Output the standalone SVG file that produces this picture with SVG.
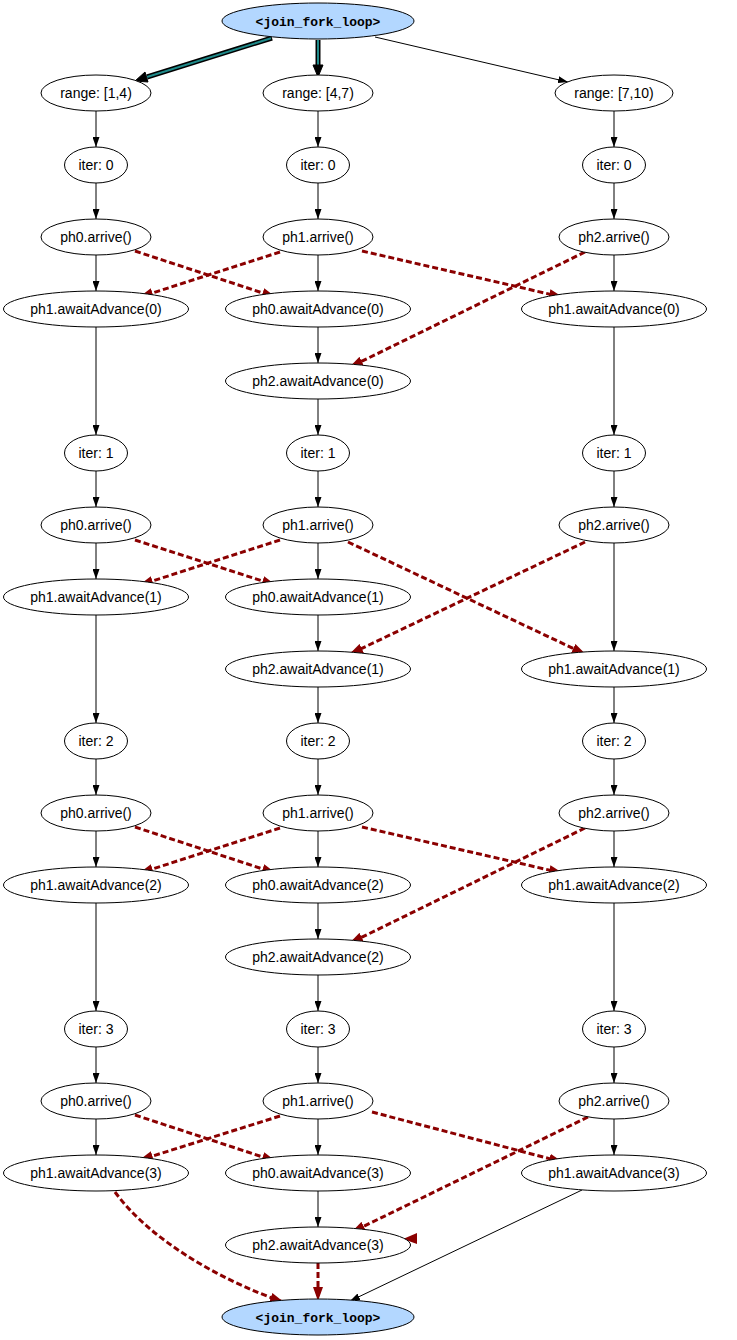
<svg xmlns="http://www.w3.org/2000/svg" width="737" height="1340" viewBox="0 0 737 1340">
<style>
.n ellipse{fill:#fff;stroke:#000;stroke-width:1}
.n text{font-family:"Liberation Sans",Arial,sans-serif;font-size:14px;text-anchor:middle;fill:#000}
.j ellipse{fill:#b3d7ff;stroke:#000;stroke-width:1}
.j text{font-family:"Liberation Mono","Courier New",monospace;font-size:13px;font-weight:bold;text-anchor:middle;fill:#000}
.e{fill:none;stroke:#000;stroke-width:1;marker-end:url(#ab)}
.r{fill:none;stroke:#8b0000;stroke-width:3;stroke-dasharray:6,3;marker-end:url(#ar)}
</style>
<defs>
<marker id="ab" markerUnits="userSpaceOnUse" markerWidth="10" markerHeight="7" refX="10" refY="3.5" orient="auto"><path d="M0,0 L10,3.5 L0,7 z" fill="#000"/></marker>
<marker id="ar" markerUnits="userSpaceOnUse" markerWidth="14" markerHeight="10" refX="13" refY="5" orient="auto"><path d="M0,0 L14,5 L0,10 z" fill="#8b0000"/></marker>
</defs>
<rect width="737" height="1340" fill="#fff"/>
<g id="connectors">
<line x1="272" y1="38" x2="147" y2="77" stroke="#000" stroke-width="5"/>
<line x1="271" y1="38.3" x2="147" y2="77" stroke="#1f8a8a" stroke-width="2"/>
<polygon points="135,81 148,82 145,72" fill="#000" stroke="#000"/>
<line x1="318" y1="40" x2="318" y2="65" stroke="#000" stroke-width="5"/>
<line x1="318" y1="40" x2="318" y2="65" stroke="#1f8a8a" stroke-width="2"/>
<polygon points="318,77 313,65 323,65" fill="#000" stroke="#000"/>
<path class="e" d="M375,37 L568,82"/>
<path class="e" d="M96,111 V147"/><path class="e" d="M96,183 V219"/><path class="e" d="M96,255 V291"/><path class="e" d="M96,327 V435"/>
<path class="e" d="M96,471 V507"/><path class="e" d="M96,543 V579"/><path class="e" d="M96,615 V723"/>
<path class="e" d="M96,759 V795"/><path class="e" d="M96,831 V867"/><path class="e" d="M96,903 V1011"/>
<path class="e" d="M96,1047 V1083"/><path class="e" d="M96,1119 V1155"/>
<path class="e" d="M318,111 V147"/><path class="e" d="M318,183 V219"/><path class="e" d="M318,255 V291"/><path class="e" d="M318,327 V363"/><path class="e" d="M318,399 V435"/>
<path class="e" d="M318,471 V507"/><path class="e" d="M318,543 V579"/><path class="e" d="M318,615 V651"/><path class="e" d="M318,687 V723"/>
<path class="e" d="M318,759 V795"/><path class="e" d="M318,831 V867"/><path class="e" d="M318,903 V939"/><path class="e" d="M318,975 V1011"/>
<path class="e" d="M318,1047 V1083"/><path class="e" d="M318,1119 V1155"/><path class="e" d="M318,1191 V1227"/>
<path class="e" d="M614,111 V147"/><path class="e" d="M614,183 V219"/><path class="e" d="M614,255 V291"/><path class="e" d="M614,327 V435"/>
<path class="e" d="M614,471 V507"/><path class="e" d="M614,543 V651"/><path class="e" d="M614,687 V723"/>
<path class="e" d="M614,759 V795"/><path class="e" d="M614,831 V867"/><path class="e" d="M614,903 V1011"/>
<path class="e" d="M614,1047 V1083"/><path class="e" d="M614,1119 V1155"/>
<path class="e" d="M582,1190 L350,1301"/>
<path class="r" d="M135,251 L275,297"/><path class="r" d="M280,252 L140,297"/><path class="r" d="M362,251 L562,297"/><path class="r" d="M585,252 L350,367"/>
<path class="r" d="M135,540 L275,585"/><path class="r" d="M280,540 L140,585"/><path class="r" d="M348,542 L585,654"/><path class="r" d="M585,542 L350,654"/>
<path class="r" d="M135,827 L275,873"/><path class="r" d="M280,828 L140,873"/><path class="r" d="M362,827 L562,873"/><path class="r" d="M585,828 L350,943"/>
<path class="r" d="M135,1115 L275,1161"/><path class="r" d="M280,1116 L140,1160"/><path class="r" d="M372,1112 L562,1162"/><path class="r" d="M588,1117 L352,1232"/>
<path class="r" d="M115,1192 C150,1240 220,1280 283,1302"/>
<path class="r" d="M318,1263 L318,1300"/>
<polygon points="403,1239 417,1233 417,1244" fill="#8b0000"/>
</g>
<g id="root" class="j"><ellipse cx="318" cy="21" rx="96" ry="18"/><text x="318" y="25.5">&lt;join_fork_loop&gt;</text></g>
<g id="rangeL" class="n"><ellipse cx="96" cy="93" rx="55" ry="18"/><text x="96" y="98">range: [1,4)</text></g>
<g id="rangeM" class="n"><ellipse cx="318" cy="93" rx="55" ry="18"/><text x="318" y="98">range: [4,7)</text></g>
<g id="rangeR" class="n"><ellipse cx="614" cy="93" rx="59" ry="18"/><text x="614" y="98">range: [7,10)</text></g>
<g id="iterL0" class="n"><ellipse cx="96" cy="165" rx="31.5" ry="18"/><text x="96" y="170">iter: 0</text></g>
<g id="iterM0" class="n"><ellipse cx="318" cy="165" rx="31.5" ry="18"/><text x="318" y="170">iter: 0</text></g>
<g id="iterR0" class="n"><ellipse cx="614" cy="165" rx="31.5" ry="18"/><text x="614" y="170">iter: 0</text></g>
<g id="arrL0" class="n"><ellipse cx="96" cy="237" rx="55" ry="18"/><text x="96" y="242">ph0.arrive()</text></g>
<g id="arrM0" class="n"><ellipse cx="318" cy="237" rx="55" ry="18"/><text x="318" y="242">ph1.arrive()</text></g>
<g id="arrR0" class="n"><ellipse cx="614" cy="237" rx="55" ry="18"/><text x="614" y="242">ph2.arrive()</text></g>
<g id="awL0" class="n"><ellipse cx="96" cy="309" rx="92.5" ry="18"/><text x="96" y="314">ph1.awaitAdvance(0)</text></g>
<g id="awM0a" class="n"><ellipse cx="318" cy="309" rx="92.5" ry="18"/><text x="318" y="314">ph0.awaitAdvance(0)</text></g>
<g id="awR0" class="n"><ellipse cx="614" cy="309" rx="92.5" ry="18"/><text x="614" y="314">ph1.awaitAdvance(0)</text></g>
<g id="awM0b" class="n"><ellipse cx="318" cy="381" rx="92.5" ry="18"/><text x="318" y="386">ph2.awaitAdvance(0)</text></g>
<g id="iterL1" class="n"><ellipse cx="96" cy="453" rx="31.5" ry="18"/><text x="96" y="458">iter: 1</text></g>
<g id="iterM1" class="n"><ellipse cx="318" cy="453" rx="31.5" ry="18"/><text x="318" y="458">iter: 1</text></g>
<g id="iterR1" class="n"><ellipse cx="614" cy="453" rx="31.5" ry="18"/><text x="614" y="458">iter: 1</text></g>
<g id="arrL1" class="n"><ellipse cx="96" cy="525" rx="55" ry="18"/><text x="96" y="530">ph0.arrive()</text></g>
<g id="arrM1" class="n"><ellipse cx="318" cy="525" rx="55" ry="18"/><text x="318" y="530">ph1.arrive()</text></g>
<g id="arrR1" class="n"><ellipse cx="614" cy="525" rx="55" ry="18"/><text x="614" y="530">ph2.arrive()</text></g>
<g id="awL1" class="n"><ellipse cx="96" cy="597" rx="92.5" ry="18"/><text x="96" y="602">ph1.awaitAdvance(1)</text></g>
<g id="awM1a" class="n"><ellipse cx="318" cy="597" rx="92.5" ry="18"/><text x="318" y="602">ph0.awaitAdvance(1)</text></g>
<g id="awM1b" class="n"><ellipse cx="318" cy="669" rx="92.5" ry="18"/><text x="318" y="674">ph2.awaitAdvance(1)</text></g>
<g id="awR1" class="n"><ellipse cx="614" cy="669" rx="92.5" ry="18"/><text x="614" y="674">ph1.awaitAdvance(1)</text></g>
<g id="iterL2" class="n"><ellipse cx="96" cy="741" rx="31.5" ry="18"/><text x="96" y="746">iter: 2</text></g>
<g id="iterM2" class="n"><ellipse cx="318" cy="741" rx="31.5" ry="18"/><text x="318" y="746">iter: 2</text></g>
<g id="iterR2" class="n"><ellipse cx="614" cy="741" rx="31.5" ry="18"/><text x="614" y="746">iter: 2</text></g>
<g id="arrL2" class="n"><ellipse cx="96" cy="813" rx="55" ry="18"/><text x="96" y="818">ph0.arrive()</text></g>
<g id="arrM2" class="n"><ellipse cx="318" cy="813" rx="55" ry="18"/><text x="318" y="818">ph1.arrive()</text></g>
<g id="arrR2" class="n"><ellipse cx="614" cy="813" rx="55" ry="18"/><text x="614" y="818">ph2.arrive()</text></g>
<g id="awL2" class="n"><ellipse cx="96" cy="885" rx="92.5" ry="18"/><text x="96" y="890">ph1.awaitAdvance(2)</text></g>
<g id="awM2a" class="n"><ellipse cx="318" cy="885" rx="92.5" ry="18"/><text x="318" y="890">ph0.awaitAdvance(2)</text></g>
<g id="awR2" class="n"><ellipse cx="614" cy="885" rx="92.5" ry="18"/><text x="614" y="890">ph1.awaitAdvance(2)</text></g>
<g id="awM2b" class="n"><ellipse cx="318" cy="957" rx="92.5" ry="18"/><text x="318" y="962">ph2.awaitAdvance(2)</text></g>
<g id="iterL3" class="n"><ellipse cx="96" cy="1029" rx="31.5" ry="18"/><text x="96" y="1034">iter: 3</text></g>
<g id="iterM3" class="n"><ellipse cx="318" cy="1029" rx="31.5" ry="18"/><text x="318" y="1034">iter: 3</text></g>
<g id="iterR3" class="n"><ellipse cx="614" cy="1029" rx="31.5" ry="18"/><text x="614" y="1034">iter: 3</text></g>
<g id="arrL3" class="n"><ellipse cx="96" cy="1101" rx="55" ry="18"/><text x="96" y="1106">ph0.arrive()</text></g>
<g id="arrM3" class="n"><ellipse cx="318" cy="1101" rx="55" ry="18"/><text x="318" y="1106">ph1.arrive()</text></g>
<g id="arrR3" class="n"><ellipse cx="614" cy="1101" rx="55" ry="18"/><text x="614" y="1106">ph2.arrive()</text></g>
<g id="awL3" class="n"><ellipse cx="96" cy="1173" rx="92.5" ry="18"/><text x="96" y="1178">ph1.awaitAdvance(3)</text></g>
<g id="awM3a" class="n"><ellipse cx="318" cy="1173" rx="92.5" ry="18"/><text x="318" y="1178">ph0.awaitAdvance(3)</text></g>
<g id="awR3" class="n"><ellipse cx="614" cy="1173" rx="92.5" ry="18"/><text x="614" y="1178">ph1.awaitAdvance(3)</text></g>
<g id="awM3b" class="n"><ellipse cx="318" cy="1245" rx="92.5" ry="18"/><text x="318" y="1250">ph2.awaitAdvance(3)</text></g>
<g id="join" class="j"><ellipse cx="318" cy="1317" rx="96" ry="18"/><text x="318" y="1321.5">&lt;join_fork_loop&gt;</text></g>
</svg>
